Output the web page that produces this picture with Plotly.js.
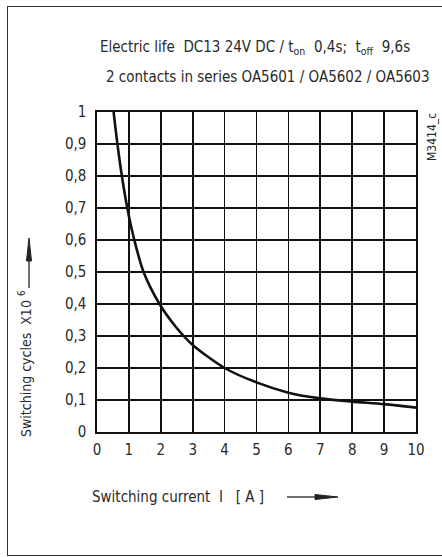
<!DOCTYPE html>
<html>
<head>
<meta charset="utf-8">
<script src="https://cdn.plot.ly/plotly-3.0.1.min.js"></script>
<style>
  html, body { margin: 0; padding: 0; background: #fff; }
  #frame { position: absolute; left: 7px; top: 6px; width: 480px; height: 550px; border: 1.5px solid #333; box-sizing: border-box; }
  #chart { position: absolute; left: 0; top: 0; width: 442px; height: 557px; }
</style>
</head>
<body>
<div id="frame"></div>
<div id="chart"></div>
<script>
const currentA = [0.52, 0.64, 0.78, 0.95, 1.17, 1.46, 1.96, 2.5, 3.0, 4.0, 5.0, 6.0, 7.0, 8.0, 9.0, 10.0];
const cyclesM  = [1.0, 0.9, 0.8, 0.7, 0.6, 0.5, 0.4, 0.325, 0.272, 0.2, 0.155, 0.123, 0.105, 0.095, 0.087, 0.076];
const xTicks = [0,1,2,3,4,5,6,7,8,9,10];
const yTicks = [0,0.1,0.2,0.3,0.4,0.5,0.6,0.7,0.8,0.9,1];

const FONT = '"Liberation Sans Narrow", "DejaVu Sans Condensed", "Roboto", sans-serif';
const TXT = '#2a2a2a';
const L = 97, R = 26, T = 112, B = 125;
const W = 442, H = 557;
const pw = W - L - R, ph = H - T - B;
const px = v => (v - L) / pw;          // pixel x -> paper
const py = v => (H - B - v) / ph;      // pixel y -> paper

const trace = {
  x: currentA, y: cyclesM, type: 'scatter', mode: 'lines',
  line: {color: '#111', width: 2.6, shape: 'spline', smoothing: 0.8},
  hoverinfo: 'skip'
};

const layout = {
  width: W, height: H,
  margin: {l: L, r: R, t: T, b: B, pad: 0},
  paper_bgcolor: 'rgba(0,0,0,0)', plot_bgcolor: '#fff',
  separators: ',.',
  showlegend: false,
  font: {family: FONT, size: 15, color: TXT},
  xaxis: {
    range: [0, 10], tickvals: xTicks, showgrid: true, gridcolor: '#111', gridwidth: 1.6,
    zeroline: false, showline: true, linecolor: '#111', linewidth: 1.6, mirror: true,
    ticks: '', ticklabelstandoff: 3, tickfont: {family: FONT, size: 15, color: TXT}, fixedrange: true
  },
  yaxis: {
    range: [0, 1], tickvals: yTicks, showgrid: true, gridcolor: '#111', gridwidth: 1.6,
    zeroline: false, showline: true, linecolor: '#111', linewidth: 1.6, mirror: true,
    ticks: '', ticklabelstandoff: 6, tickfont: {family: FONT, size: 15, color: TXT}, fixedrange: true
  },
  annotations: [
    {xref: 'paper', yref: 'paper', x: px(255), y: py(47), showarrow: false, xanchor: 'center', yanchor: 'middle',
     text: 'Electric life  DC13 24V DC / t<sub>on</sub>  0,4s;  t<sub>off</sub>  9,6s', font: {family: FONT, size: 15, color: TXT}},
    {xref: 'paper', yref: 'paper', x: px(268), y: py(77), showarrow: false, xanchor: 'center', yanchor: 'middle',
     text: '2 contacts in series OA5601 / OA5602 / OA5603', font: {family: FONT, size: 15, color: TXT}},
    {xref: 'paper', yref: 'paper', x: px(90), y: py(497), showarrow: false, xanchor: 'left', yanchor: 'middle',
     text: 'Switching current  I   [ A ]', font: {family: FONT, size: 15, color: TXT}},
    {xref: 'paper', yref: 'paper', x: px(25), y: py(364), showarrow: false, xanchor: 'center', yanchor: 'middle', textangle: -90,
     text: 'Switching cycles  X10 <sup>6</sup>', font: {family: FONT, size: 14, color: TXT}},
    {xref: 'paper', yref: 'paper', x: px(432), y: py(137), showarrow: false, xanchor: 'center', yanchor: 'middle', textangle: -90,
     text: 'M3414_c', font: {family: FONT, size: 12, color: TXT}}
  ],
  shapes: [
    // x-axis title arrow
    {type: 'line', xref: 'paper', yref: 'paper', x0: px(287), x1: px(318), y0: py(497), y1: py(497), line: {color: '#222', width: 1.3}},
    {type: 'path', xref: 'paper', yref: 'paper', fillcolor: '#222', line: {color: '#222', width: 1},
     path: `M ${px(315)} ${py(494.5)} L ${px(338)} ${py(497)} L ${px(315)} ${py(499.5)} Z`},
    // y-axis title arrow
    {type: 'line', xref: 'paper', yref: 'paper', x0: px(29), x1: px(29), y0: py(288), y1: py(258), line: {color: '#222', width: 1.3}},
    {type: 'path', xref: 'paper', yref: 'paper', fillcolor: '#222', line: {color: '#222', width: 1},
     path: `M ${px(26.5)} ${py(261)} L ${px(29)} ${py(238)} L ${px(31.5)} ${py(261)} Z`}
  ]
};

Plotly.newPlot('chart', [trace], layout, {displayModeBar: false, staticPlot: true});
</script>
</body>
</html>
